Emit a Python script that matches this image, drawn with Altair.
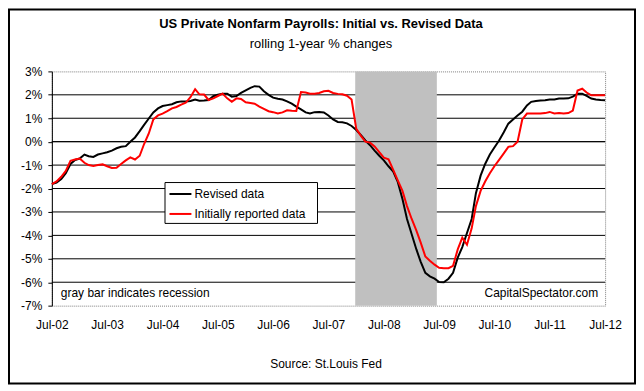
import altair as alt
import pandas as pd

# ---- data ----
months = pd.date_range("2002-07-01", periods=121, freq="MS")
revised = [
    -1.81, -1.75, -1.6, -1.35, -0.95, -0.78, -0.72, -0.55, -0.62, -0.65,
    -0.55, -0.5, -0.45, -0.38, -0.28, -0.22, -0.19, 0.0, 0.18, 0.45,
    0.72, 0.99, 1.25, 1.42, 1.52, 1.56, 1.6, 1.68, 1.72, 1.72,
    1.74, 1.8, 1.75, 1.76, 1.78, 1.94, 2.0, 2.05, 2.05, 1.92,
    1.95, 2.08, 2.19, 2.3, 2.37, 2.35, 2.15, 2.0, 1.88, 1.83,
    1.8, 1.72, 1.62, 1.5, 1.38, 1.25, 1.2, 1.26, 1.27, 1.25,
    1.12, 0.95, 0.84, 0.83, 0.78, 0.67, 0.5, 0.28, 0.05, -0.15,
    -0.38, -0.6, -0.8, -1.05, -1.28, -1.72, -2.45, -3.3, -3.95, -4.6,
    -5.12, -5.6, -5.75, -5.85, -5.99, -6.0, -5.85, -5.6, -4.95, -4.5,
    -3.9, -3.3, -2.2, -1.45, -0.95, -0.55, -0.25, 0.05, 0.4, 0.77,
    0.95, 1.12, 1.28, 1.55, 1.7, 1.74, 1.76, 1.77, 1.8, 1.8,
    1.84, 1.84, 1.85, 1.92, 2.05, 2.05, 1.95, 1.84, 1.8, 1.78,
    1.77,
]
initial = [
    -1.81, -1.7, -1.5, -1.25, -0.82, -0.76, -0.72, -0.9, -1.0, -1.04,
    -1.0, -0.97, -1.05, -1.12, -1.11, -0.95, -0.8, -0.67, -0.76, -0.6,
    -0.1, 0.35, 0.95, 1.12, 1.2, 1.3, 1.42, 1.48, 1.58, 1.66,
    1.9, 2.24, 2.02, 2.01, 1.78, 1.85, 1.95, 2.05, 1.85, 1.7,
    1.85, 1.82, 1.68, 1.65, 1.62, 1.5, 1.4, 1.3, 1.26, 1.2,
    1.25, 1.34, 1.32, 1.31, 2.12, 2.1, 2.05, 2.05, 2.08, 2.15,
    2.17, 2.08, 2.04, 2.02, 1.96, 1.8, 0.55, 0.25, 0.0, -0.04,
    -0.2, -0.45, -0.68, -0.75, -1.2, -1.65, -2.1, -2.75, -3.3, -3.8,
    -4.3, -4.9, -5.08, -5.25, -5.38, -5.4, -5.4, -5.3, -4.6, -4.1,
    -4.4, -3.7, -2.75, -2.1, -1.7, -1.35, -1.05, -0.78, -0.5, -0.22,
    -0.19, 0.0, 0.95, 1.2, 1.2, 1.2, 1.2, 1.22, 1.27, 1.2,
    1.22, 1.2, 1.22, 1.33, 2.18, 2.26, 2.1, 1.98, 1.98, 1.98,
    1.98,
]
series_names = ["Revised data", "Initially reported data"]
series_colors = ["#000000", "#ff0000"]
y_ticks = list(range(-7, 4))
grid_values = list(range(-6, 3))
x_ticks = [f"{y}-07-01" for y in range(2002, 2013)]
recession_start = ["2007-12-25"]
recession_end = ["2009-06-16"]

title_text = "US Private Nonfarm Payrolls: Initial vs. Revised Data"
subtitle_text = "rolling 1-year % changes"
source_text = "Source: St.Louis Fed"
note_left = "gray bar indicates recession"
note_right = "CapitalSpectator.com"

FONT = "Liberation Sans"
W, H = 555, 235

df = pd.DataFrame({"date": months, "revised": revised, "initial": initial})

x_scale = alt.Scale(domain=["2002-07-01", "2012-07-01"])
y_scale = alt.Scale(domain=[-7, 3], nice=False)

x_axis = alt.Axis(
    values=x_ticks, labelExpr="timeFormat(datum.value, '%b-%y')",
    ticks=False, domain=False, grid=False, title=None,
    labelFont=FONT, labelFontSize=12, labelColor="black", labelPadding=14,
    labelAngle=0, labelFlush=False, labelOverlap=False, labelBound=False,
)
y_axis = alt.Axis(
    values=y_ticks, tickCount=11, labelExpr="datum.value + '%'", grid=False,
    title=None, tickSize=4, tickColor="black", domainColor="black",
    domainWidth=1, labelFont=FONT, labelFontSize=12, labelColor="black",
    labelPadding=6, labelFlush=False, labelOverlap=False, labelBound=False,
)

# gridlines (under the recession bar)
grid = alt.Chart(pd.DataFrame({"g": grid_values})).mark_rule(
    color="black", strokeWidth=1
).encode(y=alt.Y("g:Q", scale=y_scale, axis=y_axis))

rec_df = pd.DataFrame({"start": recession_start, "end": recession_end})
recession = alt.Chart(rec_df).mark_rect(color="#c0c0c0").encode(
    x=alt.X("start:T", scale=x_scale, axis=x_axis),
    x2="end:T",
    y=alt.YDatum(3, type="quantitative", scale=y_scale, axis=y_axis),
    y2=alt.Y2Datum(-7),
)

zero = alt.Chart(pd.DataFrame({"z": [0]})).mark_rule(
    color="black", strokeWidth=1
).encode(y=alt.Y("z:Q", scale=y_scale, axis=y_axis))

line_rev = alt.Chart(df).mark_line(
    color=series_colors[0], strokeWidth=2
).encode(
    x=alt.X("date:T", scale=x_scale, axis=x_axis),
    y=alt.Y("revised:Q", scale=y_scale, axis=y_axis),
)
line_ini = alt.Chart(df).mark_line(
    color=series_colors[1], strokeWidth=2
).encode(
    x=alt.X("date:T", scale=x_scale, axis=x_axis),
    y=alt.Y("initial:Q", scale=y_scale, axis=y_axis),
)

# legend (drawn manually)
leg_box = alt.Chart(pd.DataFrame({"a": [0]})).mark_rect(
    fill="white", stroke="black", strokeWidth=1
).encode(x=alt.value(113.5), x2=alt.value(266.5), y=alt.value(111.5), y2=alt.value(152.5))


def legend_entry(i, ypix):
    d = pd.DataFrame({"name": [series_names[i]]})
    ln = alt.Chart(d).mark_rule(color=series_colors[i], strokeWidth=2).encode(
        x=alt.value(118), x2=alt.value(140), y=alt.value(ypix), y2=alt.value(ypix)
    )
    tx = alt.Chart(d).mark_text(
        align="left", baseline="middle", font=FONT, fontSize=12, color="black"
    ).encode(x=alt.value(143), y=alt.value(ypix), text="name:N")
    return [ln, tx]


def label(txt, x, y, size=12, weight="normal", align="center"):
    return alt.Chart(pd.DataFrame({"t": [txt]})).mark_text(
        align=align, baseline="middle", font=FONT, fontSize=size,
        fontWeight=weight, color="black"
    ).encode(x=alt.value(x), y=alt.value(y), text="t:N")


frame = alt.Chart(pd.DataFrame({"a": [0]})).mark_rect(
    fill=None, stroke="black", strokeWidth=2
).encode(x=alt.value(-43), x2=alt.value(585), y=alt.value(-62), y2=alt.value(313))

chart = alt.layer(
    grid, recession, zero, line_rev, line_ini,
    leg_box, *legend_entry(0, 123), *legend_entry(1, 143),
    label(title_text, 270, -48, 13, "bold"),
    label(subtitle_text, 270, -27, 13),
    label(source_text, 275, 294, 12),
    label(note_left, 9, 222, 12, align="left"),
    label(note_right, 548, 222, 12, align="right"),
    frame,
).properties(
    width=W, height=H,
    autosize=alt.AutoSizeParams(type="none"),
    padding={"left": 44, "top": 63, "right": 31, "bottom": 79},
    background="white",
).configure_axis(
    labelOverlap=False, labelFlush=False
).configure_view(
    stroke="#808080", strokeWidth=1, strokeDash=[1, 1]
)

chart.save("out.html", embed_options={"renderer": "svg", "actions": False})
